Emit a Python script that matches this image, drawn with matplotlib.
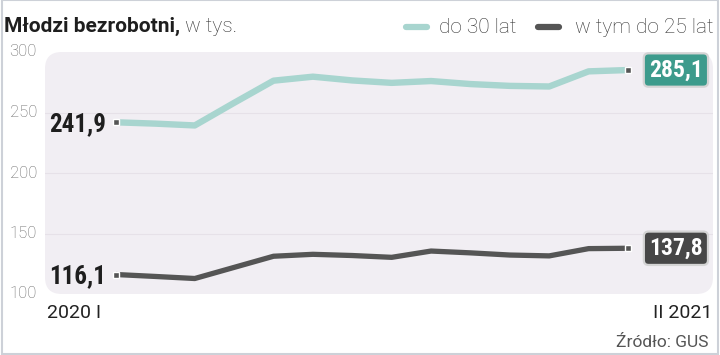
import matplotlib
matplotlib.use("Agg")
import matplotlib.pyplot as plt
from matplotlib import font_manager
from matplotlib.patches import FancyBboxPatch, Rectangle
from matplotlib.lines import Line2D

# ---- data ----
months = ["I", "II", "III", "IV", "V", "VI", "VII", "VIII", "IX", "X", "XI", "XII", "I", "II"]
under30 = [241.9, 240.8, 239.3, 258.0, 276.3, 279.6, 276.5, 274.5, 276.0, 273.5, 272.0, 271.5, 284.0, 285.1]
under25 = [116.1, 114.5, 112.8, 122.0, 131.2, 132.8, 131.8, 130.3, 135.5, 134.0, 132.2, 131.5, 137.5, 137.8]
start_label = "2020 I"
end_label = "II 2021"
yticks = [100, 150, 200, 250, 300]
series_names = ["do 30 lat", "w tym do 25 lat"]
title_bold = "Młodzi bezrobotni,"
title_rest = " w tys."
source = "Źródło: GUS"

names = {f.name for f in font_manager.fontManager.ttflist}
cond = "Roboto Condensed" if "Roboto Condensed" in names else "Roboto"
base = "Roboto"

W, H = 720, 355
fig = plt.figure(figsize=(W / 100, H / 100), dpi=100)
fig.patch.set_facecolor("white")

def fx(px):
    return px / W

def fy(py):
    return 1 - py / H

# outer border
fig.add_artist(Rectangle((fx(2), fy(354)), fx(716), 354 / H, transform=fig.transFigure,
                         fill=False, edgecolor="#cdd1d8", lw=1.5))

L, R, T, B = 45, 713, 52, 294
ax = fig.add_axes([fx(L), fy(B), fx(R - L), (B - T) / H])
ax.set_facecolor("none")
x = list(range(len(months)))
ppu = (628 - 116) / (len(months) - 1)
ax.set_xlim(-(116 - L) / ppu, (len(months) - 1) + (R - 628) / ppu)
ax.set_ylim(100, 300)
for s in ax.spines.values():
    s.set_visible(False)
ax.set_xticks([])
ax.set_yticks([])

# background panel
bg = FancyBboxPatch((0, 0), 1, 1, boxstyle="round,pad=0,rounding_size=0.025",
                    transform=ax.transAxes, facecolor="#f1eef3", edgecolor="none",
                    mutation_aspect=(R - L) / (B - T), zorder=0, clip_on=False)
ax.add_patch(bg)
for v in yticks[1:-1]:
    ax.axhline(v, color="#e6e1e8", lw=0.8, zorder=1)

# y tick labels
for v in yticks:
    ax.text(-0.012, (v - 100) / 200, str(v), transform=ax.transAxes, ha="right", va="center",
            fontsize=12, color="#666666", family=base, fontweight="light")

teal = "#a8d5cf"
dark = "#555555"
ax.plot(x, under30, color=teal, lw=4.6, solid_capstyle="butt", solid_joinstyle="round", zorder=3)
ax.plot(x, under25, color=dark, lw=3.8, solid_capstyle="butt", solid_joinstyle="round", zorder=3)

for ser in (under30, under25):
    ax.plot([x[0], x[-1]], [ser[0], ser[-1]], ls="none", marker="s", ms=5,
            mfc="#555555", mec="white", mew=1.0, zorder=5)

def fmt(v):
    return f"{v:.1f}".replace(".", ",")

# start labels
for ser in (under30, under25):
    ax.annotate(fmt(ser[0]), (x[0], ser[0]), xytext=(-7, -1), textcoords="offset points",
                ha="right", va="center", fontsize=18, fontweight="bold", color="#1e1e1e",
                family=cond, zorder=6)

# end labels
for ser, col in ((under30, "#3d9b8c"), (under25, "#474747")):
    ax.annotate(fmt(ser[-1]), (x[-1], ser[-1]), xytext=(34.5, 0), textcoords="offset points",
                ha="center", va="center", fontsize=17, fontweight="bold", color="white",
                family=cond, zorder=6, annotation_clip=False,
                bbox=dict(boxstyle="round,pad=0.22,rounding_size=0.2", fc=col, ec="#d4d4d4", lw=1.6))

# x labels
fig.text(fx(47), fy(318), start_label, ha="left", va="baseline", fontsize=14, color="#222222", family=base)
fig.text(fx(712), fy(318), end_label, ha="right", va="baseline", fontsize=14, color="#222222", family=base)
fig.text(fx(708), fy(347), source, ha="right", va="baseline", fontsize=12.5, color="#555555",
         family=base)

# title
t1 = fig.text(fx(4), fy(32), title_bold, ha="left", va="baseline", fontsize=15, fontweight="bold",
              color="#1e1e1e", family=base)
fig.canvas.draw()
bb = t1.get_window_extent()
fig.text(bb.x1 / W, fy(32), title_rest, ha="left", va="baseline", fontsize=15, fontweight="light",
         color="#333333", family=base)

# legend
fig.add_artist(Line2D([fx(406), fx(427)], [fy(27), fy(27)], transform=fig.transFigure,
                      color=teal, lw=4.5, solid_capstyle="round"))
fig.text(fx(439), fy(33), series_names[0], ha="left", va="baseline", fontsize=15, color="#333333",
         family=base, fontweight="light")
fig.add_artist(Line2D([fx(538), fx(559)], [fy(27), fy(27)], transform=fig.transFigure,
                      color=dark, lw=4.5, solid_capstyle="round"))
fig.text(fx(575), fy(33), series_names[1], ha="left", va="baseline", fontsize=15, color="#333333",
         family=base, fontweight="light")

fig.savefig("out.png", dpi=100, facecolor="white")
